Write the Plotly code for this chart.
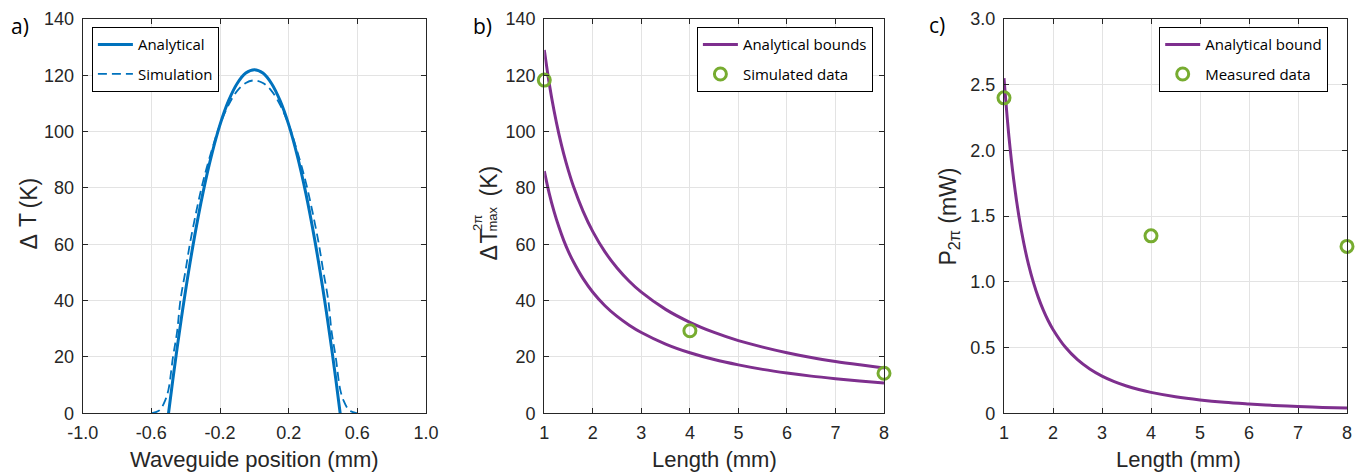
import plotly.graph_objects as go

W, H = 1359, 472

# ---------------- data ----------------
# panel a: temperature profile across waveguide
pos_analytical = [-0.5, -0.475, -0.45, -0.425, -0.4, -0.35, -0.3, -0.25, -0.2, -0.15, -0.1, -0.05, 0.0,
                  0.05, 0.1, 0.15, 0.2, 0.25, 0.3, 0.35, 0.4, 0.425, 0.45, 0.475, 0.5]
dT_analytical = [0.0, 11.9, 23.2, 33.8, 43.9, 62.2, 78.1, 91.5, 102.5, 111.0, 117.1, 120.8, 122.0,
                 120.8, 117.1, 111.0, 102.5, 91.5, 78.1, 62.2, 43.9, 33.8, 23.2, 11.9, 0.0]
pos_simulation = [-0.6, -0.575, -0.55, -0.52, -0.5, -0.474, -0.45, -0.431, -0.4, -0.376, -0.337, -0.3, -0.25,
                  -0.2, -0.15, -0.1, -0.05, 0.0, 0.05, 0.1, 0.15, 0.2, 0.25, 0.3, 0.337, 0.376, 0.4,
                  0.431, 0.45, 0.474, 0.5, 0.52, 0.55, 0.575, 0.6]
dT_simulation = [0.0, 0.4, 1.2, 4.5, 8.5, 20.0, 29.0, 40.0, 51.0, 60.0, 72.0, 82.0, 93.0,
                 102.5, 109.5, 114.5, 117.3, 118.2, 117.3, 114.5, 109.5, 102.5, 93.0, 82.0, 72.0, 60.0, 51.0,
                 40.0, 29.0, 20.0, 8.5, 4.5, 1.2, 0.4, 0.0]

# panel b: max temperature for 2pi vs length
length_b = [1.0, 1.1, 1.2, 1.3, 1.4, 1.5, 1.6, 1.8, 2.0, 2.25, 2.5, 2.75, 3.0, 3.5, 4.0, 4.5, 5.0,
            5.5, 6.0, 6.5, 7.0, 7.5, 8.0]
dT_upper = [129.0, 117.3, 107.5, 99.2, 92.1, 86.0, 80.6, 71.7, 64.5, 57.3, 51.6, 46.9, 43.0, 36.9, 32.3, 28.7, 25.8,
            23.5, 21.5, 19.8, 18.4, 17.2, 16.1]
dT_lower = [86.0, 78.2, 71.7, 66.2, 61.4, 57.3, 53.8, 47.8, 43.0, 38.2, 34.4, 31.3, 28.7, 24.6, 21.5, 19.1, 17.2,
            15.6, 14.3, 13.2, 12.3, 11.5, 10.8]
sim_length = [1, 4, 8]
sim_dT = [118.3, 29.3, 14.2]

# panel c: power for 2pi vs length
length_c = [1.0, 1.1, 1.2, 1.3, 1.4, 1.5, 1.6, 1.7, 1.8, 1.9, 2.0, 2.25, 2.5, 2.75, 3.0, 3.25, 3.5, 3.75, 4.0,
            4.5, 5.0, 5.5, 6.0, 6.5, 7.0, 7.5, 8.0]
P_bound = [2.55, 2.107, 1.771, 1.509, 1.301, 1.133, 0.996, 0.882, 0.787, 0.706, 0.638, 0.504, 0.408, 0.337, 0.283,
           0.241, 0.208, 0.181, 0.159, 0.126, 0.102, 0.084, 0.071, 0.060, 0.052, 0.045, 0.040]
meas_length = [1, 4, 8]
meas_P = [2.40, 1.35, 1.27]

# tick labels
a_xticks = [-1.0, -0.6, -0.2, 0.2, 0.6, 1.0]
a_xlabels = ["-1.0", "-0.6", "-0.2", "0.2", "0.6", "1.0"]
y140_ticks = [0, 20, 40, 60, 80, 100, 120, 140]
len_ticks = [1, 2, 3, 4, 5, 6, 7, 8]
c_yticks = [0, 0.5, 1.0, 1.5, 2.0, 2.5, 3.0]
c_ylabels = ["0", "0.5", "1.0", "1.5", "2.0", "2.5", "3.0"]

# ---------------- style ----------------
BLUE = "#0072BD"
PURPLE = "#7E2F8E"
GREEN = "#77AC30"
TXT = "#262626"
TICKFONT = dict(family="Liberation Sans, Arial", size=18, color=TXT)
LABFONT = dict(family="Liberation Sans, Arial", size=22, color=TXT)
YLABFONT = dict(family="Liberation Sans, Arial", size=23, color=TXT)
LEGFONT = dict(family="Open Sans", size=15, color="black")


def X(px):
    return px / W


def Y(py):
    return 1 - py / H


fig = go.Figure()

# panel a
fig.add_trace(go.Scatter(x=pos_analytical, y=dT_analytical, mode="lines", name="Analytical",
                         line=dict(color=BLUE, width=3, shape="spline"), xaxis="x", yaxis="y",
                         legend="legend", legendgroup="a1"))
fig.add_trace(go.Scatter(x=pos_simulation, y=dT_simulation, mode="lines", name="Simulation",
                         line=dict(color=BLUE, width=1.8, dash="9px,5px", shape="spline"), xaxis="x", yaxis="y",
                         legend="legend", legendgroup="a2"))
# panel b
fig.add_trace(go.Scatter(x=length_b, y=dT_upper, mode="lines", name="Analytical bounds",
                         line=dict(color=PURPLE, width=3, shape="spline"), xaxis="x2", yaxis="y2",
                         legend="legend2", legendgroup="b1"))
fig.add_trace(go.Scatter(x=length_b, y=dT_lower, mode="lines", name="Analytical bounds", showlegend=False,
                         line=dict(color=PURPLE, width=3, shape="spline"), xaxis="x2", yaxis="y2",
                         legend="legend2", legendgroup="b1"))
fig.add_trace(go.Scatter(x=sim_length, y=sim_dT, mode="markers", name="Simulated data", cliponaxis=False,
                         marker=dict(symbol="circle-open", size=12, color=GREEN, line=dict(width=3, color=GREEN)),
                         xaxis="x2", yaxis="y2", legend="legend2", legendgroup="b2"))
# panel c
fig.add_trace(go.Scatter(x=length_c, y=P_bound, mode="lines", name="Analytical bound",
                         line=dict(color=PURPLE, width=3, shape="spline"), xaxis="x3", yaxis="y3",
                         legend="legend3", legendgroup="c1"))
fig.add_trace(go.Scatter(x=meas_length, y=meas_P, mode="markers", name="Measured data", cliponaxis=False,
                         marker=dict(symbol="circle-open", size=12, color=GREEN, line=dict(width=3, color=GREEN)),
                         xaxis="x3", yaxis="y3", legend="legend3", legendgroup="c2"))

ydom = [Y(413.3), Y(19)]
common = dict(showline=True, linecolor=TXT, linewidth=1.2, mirror="allticks", ticks="inside", ticklen=5,
              tickcolor=TXT, tickwidth=1.2, showgrid=True, gridcolor="#e3e3e3", gridwidth=1,
              zeroline=False, tickfont=TICKFONT)

legcommon = dict(xanchor="left", yanchor="top", bgcolor="white", bordercolor="black", borderwidth=1.2,
                 font=LEGFONT, itemwidth=35, tracegroupgap=7, traceorder="grouped")

fig.update_layout(
    width=W, height=H, margin=dict(l=0, r=0, t=0, b=0, autoexpand=False),
    paper_bgcolor="white", plot_bgcolor="white",
    xaxis=dict(domain=[X(82.7), X(426)], range=[-1, 1], tickvals=a_xticks, ticktext=a_xlabels,
               anchor="y", ticklabelstandoff=3, **common),
    yaxis=dict(domain=ydom, range=[0, 140], tickvals=y140_ticks, anchor="x", ticklabelstandoff=4, **common),
    xaxis2=dict(domain=[X(544.3), X(884)], range=[1, 8], tickvals=len_ticks, anchor="y2",
                ticklabelstandoff=3, **common),
    yaxis2=dict(domain=ydom, range=[0, 140], tickvals=y140_ticks, anchor="x2", ticklabelstandoff=4, **common),
    xaxis3=dict(domain=[X(1004), X(1347)], range=[1, 8], tickvals=len_ticks, anchor="y3",
                ticklabelstandoff=3, **common),
    yaxis3=dict(domain=ydom, range=[0, 3], tickvals=c_yticks, ticktext=c_ylabels, anchor="x3",
                ticklabelstandoff=4, **common),
    legend=dict(x=X(91.7), y=Y(27), **legcommon),
    legend2=dict(x=X(696.7), y=Y(27), **legcommon),
    legend3=dict(x=X(1159), y=Y(27), **legcommon),
    showlegend=True,
)

ann = []


def add_text(text, px, py, font, angle=0):
    ann.append(dict(text=text, x=X(px), y=Y(py), xref="paper", yref="paper", xanchor="center",
                    yanchor="middle", showarrow=False, textangle=angle, font=font))


PANELFONT = dict(family="Open Sans", size=21, color="black")
add_text("a)", 20, 26, PANELFONT)
add_text("b)", 482.5, 26, PANELFONT)
add_text("c)", 936.7, 25, PANELFONT)

add_text("Waveguide position (mm)", 254.5, 459, LABFONT)
add_text("Length (mm)", 714, 459, LABFONT)
add_text("Length (mm)", 1178, 459, LABFONT)

# panel a y label
add_text("Δ", 28.5, 242, YLABFONT, -90)
add_text("T", 28.5, 220.5, YLABFONT, -90)
add_text("(K)", 28.5, 193, YLABFONT, -90)

# panel c y label
add_text("P<sub>2π</sub> (mW)", 949, 216.5, YLABFONT, -90)

# panel b y label (stacked super/subscript)
SMALL = dict(family="Liberation Sans, Arial", size=13, color=TXT)
add_text("Δ", 488.5, 253, YLABFONT, -90)
add_text("T", 488.5, 237, YLABFONT, -90)
add_text("2π", 478, 223, SMALL, -90)
add_text("max", 492, 219.5, SMALL, -90)
add_text("(K)", 488.5, 181, YLABFONT, -90)

fig.update_layout(annotations=ann)
fig.write_html("out.html", config={"displayModeBar": False},
               post_script="document.body.style.margin='0';document.body.style.overflow='hidden';")
